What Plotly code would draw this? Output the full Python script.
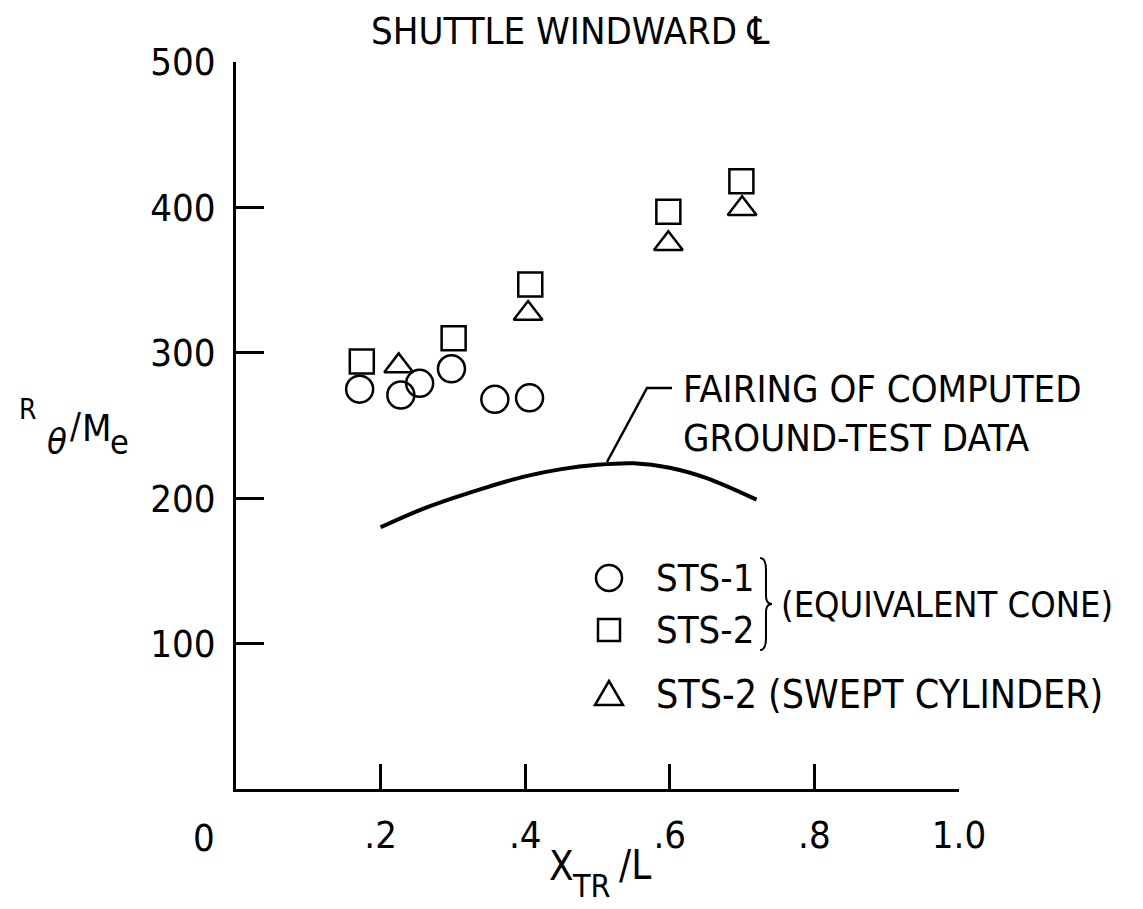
import plotly.graph_objects as go

# ---------------- data ----------------
sts1_x = [0.171, 0.228, 0.254, 0.298, 0.358, 0.406]
sts1_y = [275, 271, 279, 289, 268, 269]

sts2_x = [0.174, 0.301, 0.407, 0.598, 0.699]
sts2_y = [294, 310, 347, 397, 418]

sts2_swept_x = [0.225, 0.404, 0.598, 0.700]
sts2_swept_y = [291, 327, 375, 399]

fairing_x = [0.20, 0.25, 0.30, 0.35, 0.40, 0.45, 0.50, 0.55, 0.60, 0.65, 0.72]
fairing_y = [180, 191, 200, 208, 215, 220, 223, 224, 221, 214, 199]

x_tickvals = [0.2, 0.4, 0.6, 0.8, 1.0]
x_ticktext = [".2", ".4", ".6", ".8", "1.0"]
y_tickvals = [100, 200, 300, 400, 500]
y_ticktext = ["100", "200", "300", "400", "500"]

# ---------------- layout geometry (pixels) ----------------
W, H = 1143, 909
L, R, T, B = 236, 959, 62, 789
FONT = "DejaVu Sans Condensed, Liberation Sans Narrow, Arial Narrow, sans-serif"
FS = 38


def pxx(x):
    return (x - L) / (R - L)


def pxy(y):
    return (B - y) / (B - T)


fig = go.Figure()

fig.add_trace(go.Scatter(x=fairing_x, y=fairing_y, mode="lines",
                         line=dict(color="black", width=4, shape="spline"),
                         showlegend=False, hoverinfo="skip"))
marker_line = dict(color="black", width=2.5)
fig.add_trace(go.Scatter(x=sts1_x, y=sts1_y, mode="markers", name="STS-1",
                         marker=dict(symbol="circle-open", size=27, line=marker_line, color="black"),
                         showlegend=False))
fig.add_trace(go.Scatter(x=sts2_x, y=sts2_y, mode="markers", name="STS-2",
                         marker=dict(symbol="square-open", size=24, line=marker_line, color="black"),
                         showlegend=False))
fig.add_trace(go.Scatter(x=sts2_swept_x, y=sts2_swept_y, mode="markers", name="STS-2 (SWEPT CYLINDER)",
                         marker=dict(symbol="triangle-up-open", size=25, line=marker_line, color="black"),
                         showlegend=False))

annotations = []


def ann(text, x, y, xanchor="center", yanchor="middle", size=FS, align="left"):
    annotations.append(dict(text=text, x=pxx(x), y=pxy(y), xref="paper", yref="paper",
                            xanchor=xanchor, yanchor=yanchor, showarrow=False, align=align,
                            borderpad=0,
                            font=dict(family=FONT, size=size, color="black")))


ann("SHUTTLE WINDWARD ℄", 570, 31, size=38)
ann("0", 204, 838)

# x-axis title  X_TR / L
ann("X", 561, 866, size=40)
ann("TR", 591, 886, size=32)
ann("/L", 635, 865, size=40)

# y-axis title  R_theta / M_e
ann("R", 28, 410, size=28)
ann("<i>θ</i>", 57, 441, size=36)
ann("/", 75, 425, size=36)
ann("M", 97, 428, size=38)
ann("e", 120, 442, size=34)

ann("FAIRING OF COMPUTED<br>GROUND-TEST DATA", 682, 366, xanchor="left", yanchor="top")

# legend text
rows = [578, 630, 694]
TX = 655
ann("STS-1", TX, rows[0], xanchor="left")
ann("STS-2", TX, rows[1], xanchor="left")
ann("(EQUIVALENT CONE)", 780, (rows[0] + rows[1]) / 2, xanchor="left", size=36)
ann("STS-2 (SWEPT CYLINDER)", TX, rows[2], xanchor="left", size=39)

shapes = []
# leader line from the fairing curve to its label
pts = [(607, 462), (647, 388), (672, 388)]
path = "M " + " L ".join(f"{pxx(a)},{pxy(b)}" for a, b in pts)
shapes.append(dict(type="path", path=path, xref="paper", yref="paper",
                   line=dict(color="black", width=2.5)))

# legend symbols
sym_x = 609
r = 13
shapes.append(dict(type="circle", xref="paper", yref="paper",
                   x0=pxx(sym_x - r), x1=pxx(sym_x + r), y0=pxy(rows[0] + r), y1=pxy(rows[0] - r),
                   line=dict(color="black", width=2.5)))
s = 11
shapes.append(dict(type="rect", xref="paper", yref="paper",
                   x0=pxx(sym_x - s), x1=pxx(sym_x + s), y0=pxy(rows[1] + s), y1=pxy(rows[1] - s),
                   line=dict(color="black", width=2.5)))
tri = [(sym_x - 14, rows[2] + 11), (sym_x + 14, rows[2] + 11), (sym_x, rows[2] - 13)]
shapes.append(dict(type="path", xref="paper", yref="paper",
                   path="M " + " L ".join(f"{pxx(a)},{pxy(b)}" for a, b in tri) + " Z",
                   line=dict(color="black", width=2.5)))

# brace joining STS-1 / STS-2
bx = 764
y0b, y1b = rows[0] - 20, rows[1] + 20
ym = (y0b + y1b) / 2
brace = [
    f"M {pxx(bx - 4)},{pxy(y0b)}",
    f"Q {pxx(bx + 2)},{pxy(y0b)} {pxx(bx + 2)},{pxy(y0b + 12)}",
    f"L {pxx(bx + 2)},{pxy(ym - 8)}",
    f"Q {pxx(bx + 2)},{pxy(ym)} {pxx(bx + 8)},{pxy(ym)}",
    f"Q {pxx(bx + 2)},{pxy(ym)} {pxx(bx + 2)},{pxy(ym + 8)}",
    f"L {pxx(bx + 2)},{pxy(y1b - 12)}",
    f"Q {pxx(bx + 2)},{pxy(y1b)} {pxx(bx - 4)},{pxy(y1b)}",
]
shapes.append(dict(type="path", xref="paper", yref="paper", path=" ".join(brace),
                   line=dict(color="black", width=2)))

fig.update_layout(
    width=W, height=H,
    margin=dict(l=L, r=W - R, t=T, b=H - B, pad=0),
    plot_bgcolor="white", paper_bgcolor="white",
    showlegend=False,
    annotations=annotations,
    shapes=shapes,
    xaxis=dict(range=[0, 1], showgrid=False, zeroline=False, showline=True,
               linecolor="black", linewidth=3, ticks="inside", ticklen=25, tickwidth=2.5,
               tickcolor="black", tickvals=x_tickvals, ticktext=x_ticktext,
               tickfont=dict(family=FONT, size=FS, color="black"), ticklabelstandoff=10),
    yaxis=dict(range=[0, 500], showgrid=False, zeroline=False, showline=True,
               linecolor="black", linewidth=3, ticks="inside", ticklen=28, tickwidth=2.5,
               tickcolor="black", tickvals=y_tickvals, ticktext=y_ticktext,
               tickfont=dict(family=FONT, size=FS, color="black"), ticklabelstandoff=10),
)

fig.write_html("out.html")
